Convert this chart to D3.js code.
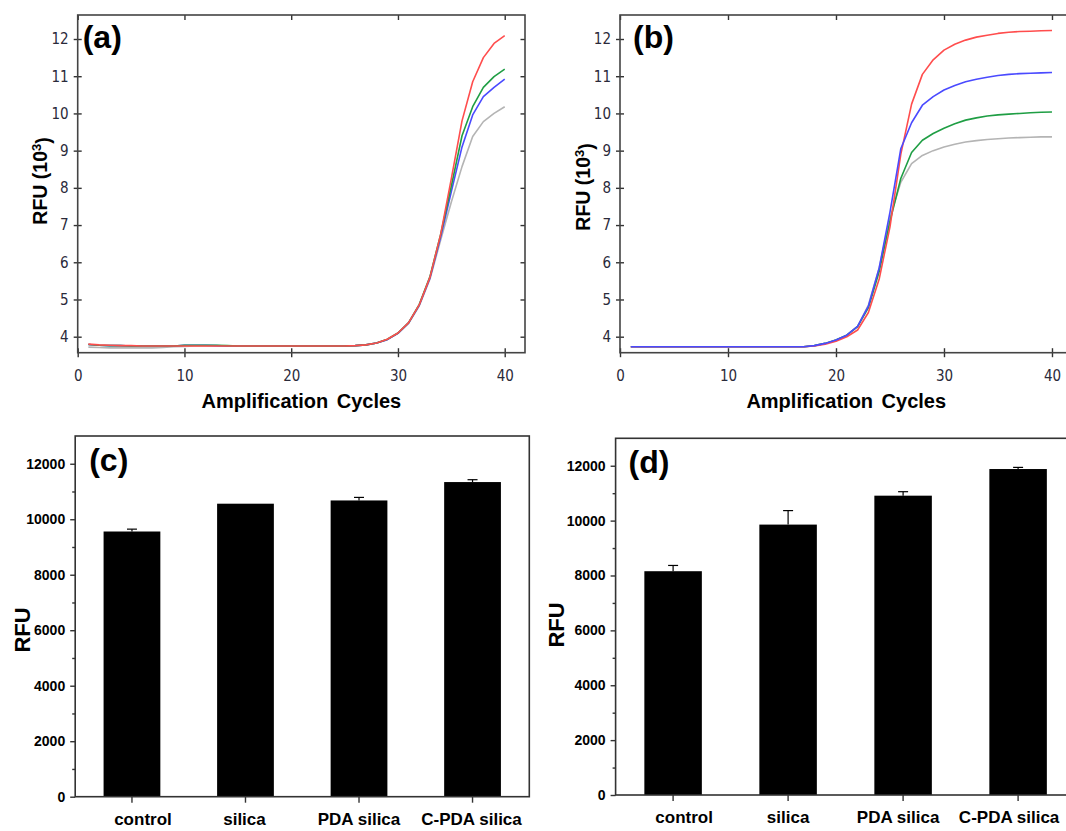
<!DOCTYPE html>
<html>
<head>
<meta charset="utf-8">
<script src="https://cdnjs.cloudflare.com/ajax/libs/d3/7.8.5/d3.min.js"></script>
<style>
  body { margin: 0; background: #fff; }
  svg { display: block; }
  .narrow text { font-family: "Liberation Sans Narrow", "Arial Narrow", "DejaVu Sans Condensed", sans-serif; font-size: 15px; fill: #2a2a3a; }
  .boldtick text { font-family: "Liberation Sans", Arial, sans-serif; font-weight: bold; font-size: 14px; fill: #000; }
  .cat text { font-family: "Liberation Sans", Arial, sans-serif; font-weight: bold; font-size: 17px; fill: #000; }
</style>
</head>
<body>
<script>
// ---- data ----
const cycles = [1,2,3,4,5,6,7,8,9,10,11,12,13,14,15,16,17,18,19,20,21,22,23,24,25,26,27,28,29,30,31,32,33,34,35,36,37,38,39,40];
const xTicks = [0, 10, 20, 30, 40];
const yTicksCurve = [4, 5, 6, 7, 8, 9, 10, 11, 12];

// panel (a)
const aRed   = [3.80,3.78,3.77,3.76,3.76,3.75,3.75,3.75,3.75,3.75,3.75,3.75,3.75,3.75,3.75,3.75,3.75,3.75,3.75,3.75,3.75,3.75,3.75,3.75,3.75,3.76,3.78,3.83,3.93,4.10,4.38,4.86,5.60,6.75,8.25,9.80,10.85,11.50,11.88,12.09];
const aGreen = [3.79,3.77,3.76,3.76,3.75,3.75,3.75,3.75,3.75,3.77,3.77,3.77,3.77,3.76,3.75,3.75,3.75,3.75,3.75,3.75,3.75,3.75,3.75,3.75,3.75,3.76,3.78,3.83,3.93,4.10,4.38,4.87,5.62,6.75,8.05,9.40,10.18,10.70,10.99,11.19];
const aBlue  = [3.79,3.77,3.76,3.76,3.75,3.75,3.75,3.75,3.75,3.77,3.77,3.77,3.76,3.75,3.75,3.75,3.75,3.75,3.75,3.75,3.75,3.75,3.75,3.75,3.75,3.76,3.78,3.83,3.92,4.09,4.37,4.85,5.58,6.68,7.90,9.10,9.96,10.45,10.70,10.92];
const aGray  = [3.72,3.71,3.70,3.70,3.70,3.70,3.70,3.71,3.73,3.74,3.75,3.75,3.75,3.75,3.75,3.75,3.75,3.75,3.75,3.75,3.75,3.75,3.75,3.75,3.75,3.76,3.78,3.83,3.92,4.09,4.36,4.83,5.55,6.60,7.62,8.57,9.38,9.78,10.00,10.18];

// panel (b)
const bRed   = [3.73,3.73,3.73,3.73,3.73,3.73,3.73,3.73,3.73,3.73,3.73,3.73,3.73,3.73,3.73,3.73,3.73,3.75,3.80,3.88,4.00,4.18,4.65,5.55,6.95,8.90,10.25,11.05,11.44,11.70,11.86,11.97,12.05,12.10,12.15,12.18,12.20,12.21,12.22,12.23];
const bBlue  = [3.73,3.73,3.73,3.73,3.73,3.73,3.73,3.73,3.73,3.73,3.73,3.73,3.73,3.73,3.73,3.73,3.73,3.76,3.82,3.91,4.04,4.28,4.82,5.85,7.35,9.05,9.75,10.22,10.45,10.63,10.75,10.85,10.92,10.97,11.02,11.05,11.07,11.08,11.09,11.10];
const bGreen = [3.73,3.73,3.73,3.73,3.73,3.73,3.73,3.73,3.73,3.73,3.73,3.73,3.73,3.73,3.73,3.73,3.73,3.76,3.82,3.91,4.04,4.27,4.78,5.75,7.10,8.25,8.95,9.28,9.46,9.60,9.72,9.82,9.88,9.93,9.96,9.98,10.00,10.02,10.03,10.04];
const bGray  = [3.73,3.73,3.73,3.73,3.73,3.73,3.73,3.73,3.73,3.73,3.73,3.73,3.73,3.73,3.73,3.73,3.73,3.76,3.82,3.91,4.04,4.28,4.85,5.85,7.20,8.15,8.65,8.87,9.00,9.10,9.17,9.23,9.27,9.30,9.32,9.34,9.35,9.36,9.37,9.37];

// panels (c) and (d)
const categories = ["control", "silica", "PDA silica", "C-PDA silica"];
const cValues = [9558, 10560, 10677, 11340];
const cErrors = [85, 0, 110, 85];
const dValues = [8156, 9855, 10909, 11880];
const dErrors = [210, 510, 145, 60];
const yTicksBar = [0, 2000, 4000, 6000, 8000, 10000, 12000];
const yMinorBar = [1000, 3000, 5000, 7000, 9000, 11000];

const colors = { red: "#ff4d4d", green: "#1f9e44", blue: "#4a4aff", gray: "#b4b4b4" };

const W = 1066, H = 831;
const svg = d3.select("body").append("svg").attr("width", W).attr("height", H);

function curvePanel(p) {
  const x = d3.scaleLinear().domain([0, 41.9]).range([p.left, p.right]);
  const y = d3.scaleLinear().domain([3.57, 12.645]).range([p.bottom, p.top]);

  const g = svg.append("g");

  // top and right inward ticks
  g.append("g").attr("transform", "translate(0," + p.top + ")")
    .call(d3.axisTop(x).tickValues(xTicks).tickSize(-5).tickFormat(""))
    .call(s => s.select(".domain").remove());
  g.append("g").attr("transform", "translate(" + p.right + ",0)")
    .call(d3.axisRight(y).tickValues(yTicksCurve).tickSize(-4.5).tickFormat(""))
    .call(s => s.select(".domain").remove());

  // left and bottom with cross ticks
  g.append("g").attr("class", "narrow").attr("transform", "translate(" + p.left + ",0)")
    .call(d3.axisLeft(y).tickValues(yTicksCurve).tickSize(4).tickPadding(5))
    .call(s => s.select(".domain").remove())
    .call(s => s.selectAll(".tick line").attr("x1", 4));
  g.append("g").attr("class", "narrow").attr("transform", "translate(0," + p.bottom + ")")
    .call(d3.axisBottom(x).tickValues(xTicks).tickSize(4.5).tickPadding(13))
    .call(s => s.select(".domain").remove())
    .call(s => s.selectAll(".tick line").attr("y1", -4.5));

  g.selectAll(".tick line").attr("stroke", "#333").attr("stroke-width", 1.4);

  g.append("rect")
    .attr("x", p.left).attr("y", p.top)
    .attr("width", p.right - p.left).attr("height", p.bottom - p.top)
    .attr("fill", "none").attr("stroke", "#444").attr("stroke-width", 1.6);

  const line = d3.line().x((d, i) => x(cycles[i])).y(d => y(d));
  p.series.forEach(s => {
    g.append("path").datum(s.values)
      .attr("d", line)
      .attr("fill", "none")
      .attr("stroke", s.color)
      .attr("stroke-width", 1.6)
      .attr("stroke-linejoin", "round");
  });

  g.append("text")
    .attr("x", p.left + p.labelDx).attr("y", p.top + 33)
    .style("font-family", "Liberation Sans, Arial, sans-serif")
    .style("font-weight", "bold").style("font-size", "32px")
    .text(p.label);

  g.append("text")
    .attr("x", (p.left + p.right) / 2).attr("y", 408)
    .attr("text-anchor", "middle")
    .style("font-family", "Liberation Sans, Arial, sans-serif")
    .style("font-weight", "bold").style("font-size", "20px")
    .style("word-spacing", "3px")
    .text("Amplification Cycles");

  const yt = g.append("text")
    .attr("transform", "translate(" + p.titleX + "," + p.titleY + ") rotate(-90)")
    .attr("text-anchor", "middle").attr("dy", "0.35em")
    .style("font-family", "Liberation Sans, Arial, sans-serif")
    .style("font-weight", "bold").style("font-size", "19.5px");
  yt.append("tspan").text("RFU (10");
  yt.append("tspan").attr("dy", "-0.45em").style("font-size", "13px").text("3");
  yt.append("tspan").attr("dy", "0.45em").text(")");
}

function barPanel(p) {
  const x = d3.scaleBand().domain(categories).range([p.left, p.right])
    .paddingInner(0.5).paddingOuter(0.25);
  const y = d3.scaleLinear().domain([0, 13000]).range([p.bottom, p.top]);

  const g = svg.append("g");

  g.selectAll(".bar").data(p.values).enter().append("rect")
    .attr("class", "bar")
    .attr("x", (d, i) => x(categories[i]))
    .attr("y", d => y(d))
    .attr("width", x.bandwidth())
    .attr("height", d => y(0) - y(d))
    .attr("fill", "#000");

  // upper error bars
  const cx = i => x(categories[i]) + x.bandwidth() / 2;
  p.values.forEach((v, i) => {
    if (!p.errors[i]) return;
    g.append("line").attr("x1", cx(i)).attr("x2", cx(i))
      .attr("y1", y(v)).attr("y2", y(v + p.errors[i]))
      .attr("stroke", "#000").attr("stroke-width", 1.2);
    g.append("line").attr("x1", cx(i) - 5).attr("x2", cx(i) + 5)
      .attr("y1", y(v + p.errors[i])).attr("y2", y(v + p.errors[i]))
      .attr("stroke", "#000").attr("stroke-width", 1.2);
  });

  g.append("g").attr("transform", "translate(" + p.left + ",0)")
    .call(d3.axisLeft(y).tickValues(yMinorBar).tickSize(3).tickFormat(""))
    .call(s => s.select(".domain").remove());
  g.append("g").attr("class", "boldtick").attr("transform", "translate(" + p.left + ",0)")
    .call(d3.axisLeft(y).tickValues(yTicksBar).tickSize(5).tickPadding(5).tickFormat(d3.format("d")))
    .call(s => s.select(".domain").remove());
  g.append("g").attr("class", "cat").attr("transform", "translate(0," + p.bottom + ")")
    .call(d3.axisBottom(x).tickSize(6).tickPadding(10))
    .call(s => s.select(".domain").remove())
    .call(s => s.selectAll(".tick text").attr("dx", (d, i) => p.catShift[i]));

  g.selectAll(".tick line").attr("stroke", "#333").attr("stroke-width", 1.4);

  g.append("rect")
    .attr("x", p.left).attr("y", p.top)
    .attr("width", p.right - p.left).attr("height", p.bottom - p.top)
    .attr("fill", "none").attr("stroke", "#333").attr("stroke-width", 1.6);

  g.append("text")
    .attr("x", p.left + p.labelDx).attr("y", p.top + 35)
    .style("font-family", "Liberation Sans, Arial, sans-serif")
    .style("font-weight", "bold").style("font-size", "32px")
    .text(p.label);

  g.append("text")
    .attr("transform", "translate(" + p.titleX + "," + p.titleY + ") rotate(-90)")
    .attr("text-anchor", "middle").attr("dy", "0.35em")
    .style("font-family", "Liberation Sans, Arial, sans-serif")
    .style("font-weight", "bold").style("font-size", "22px")
    .text("RFU");
}

curvePanel({
  left: 77.7, right: 525, top: 15, bottom: 352.7, label: "(a)", labelDx: 5,
  titleX: 40, titleY: 181,
  series: [
    { values: aGray, color: colors.gray },
    { values: aBlue, color: colors.blue },
    { values: aGreen, color: colors.green },
    { values: aRed, color: colors.red }
  ]
});

curvePanel({
  left: 620, right: 1072.5, top: 15, bottom: 352.7, label: "(b)", labelDx: 13,
  titleX: 583, titleY: 187,
  series: [
    { values: bGray, color: colors.gray },
    { values: bGreen, color: colors.green },
    { values: bRed, color: colors.red },
    { values: bBlue, color: colors.blue }
  ]
});

barPanel({
  left: 75.2, right: 529.3, top: 436, bottom: 796.7, label: "(c)", labelDx: 14,
  titleX: 22, titleY: 630, values: cValues, errors: cErrors,
  catShift: [11, -1, 0, -1]
});

barPanel({
  left: 615.6, right: 1075.6, top: 438.3, bottom: 795, label: "(d)", labelDx: 13,
  titleX: 556, titleY: 625, values: dValues, errors: dErrors,
  catShift: [11, 0, -5, -9]
});
</script>
</body>
</html>
